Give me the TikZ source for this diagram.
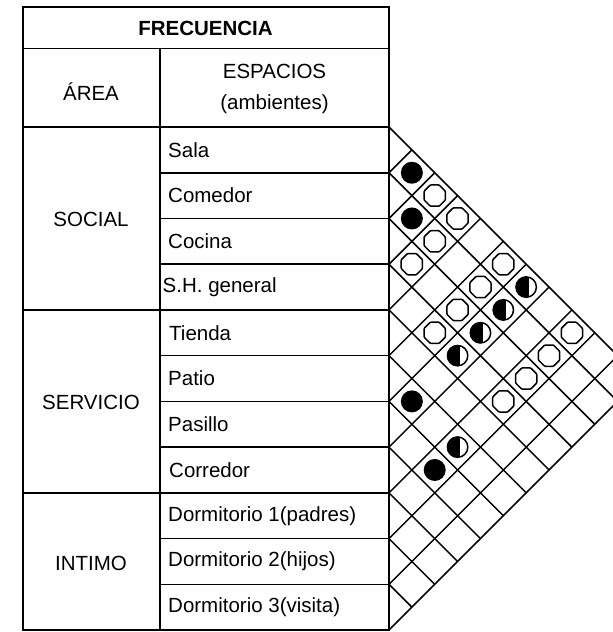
\documentclass[tikz,border=0pt]{standalone}
\usepackage{fontspec}
\setmainfont{Liberation Sans}
\usetikzlibrary{shapes.geometric}
\begin{document}
\begin{tikzpicture}[x=1pt,y=-1pt,
  rule/.style={line width=1.6pt,line cap=rect},
  gridline/.style={line width=1.5pt},
  txt/.style={inner sep=0pt,font=\fontsize{20.5}{24}\selectfont},
  spacetxt/.style={txt,anchor=west},
  opensym/.style={draw,line width=1.5pt,regular polygon,regular polygon sides=8,minimum size=23pt,inner sep=0pt,fill=white,rounded corners=0.8pt},
]
\useasboundingbox (0,0) rectangle (613,632);
\clip (0,0) rectangle (613,632);
\fill[white] (0,0) rectangle (613,632);
\def\h{45.73}
\def\hh{22.865}
% table frame
\draw[rule] (22.7,6.7) rectangle (389,630);
\draw[rule] (22.7,48.3) -- (389,48.3);
\draw[rule] (22.7,127) -- (389,127);
\draw[rule] (160,48.3) -- (160,630);
\draw[rule] (22.7,{127+4*\h}) -- (389,{127+4*\h});
\draw[rule] (22.7,{127+8*\h}) -- (389,{127+8*\h});
\foreach \k in {1,2,3,5,6,7,9,10}{
  \draw[rule] (160,{127+\k*\h}) -- (389,{127+\k*\h});
}
% matrix grid
\foreach \k in {0,...,11}{
  \draw[gridline] (389,{127+\k*\h}) -- ++({(11-\k)*\hh},{(11-\k)*\hh});
  \draw[gridline] (389,{127+\k*\h}) -- ++({\k*\hh},{-\k*\hh});
}
% header texts
\node[txt,font=\fontsize{20.5}{24}\selectfont\bfseries] (frec) at (205.5,28) {FRECUENCIA};
\node[txt] (area) at (91,92) {ÁREA};
\node[txt] (esp) at (274.5,71) {ESPACIOS};
\node[txt] (amb) at (274.5,104) {(ambientes)};
% area labels
\node[txt] (social) at (91,219.5) {SOCIAL};
\node[txt] (servicio) at (91,402.5) {SERVICIO};
\node[txt] (intimo) at (91,563) {INTIMO};
% space names
\node[spacetxt] (s1) at (168,{127+0.5*\h}) {Sala};
\node[spacetxt] (s2) at (168,{127+1.5*\h}) {Comedor};
\node[spacetxt] (s3) at (168,{127+2.5*\h}) {Cocina};
\node[spacetxt] (s4) at (162.5,{127+3.5*\h}) {S.H. general};
\node[spacetxt] (s5) at (169,{127+4.5*\h}) {Tienda};
\node[spacetxt] (s6) at (168,{127+5.5*\h}) {Patio};
\node[spacetxt] (s7) at (168,{127+6.5*\h}) {Pasillo};
\node[spacetxt] (s8) at (169,{127+7.5*\h}) {Corredor};
\node[spacetxt] (s9) at (168,{127+8.5*\h}) {Dormitorio 1(padres)};
\node[spacetxt] (s10) at (168,{127+9.5*\h}) {Dormitorio 2(hijos)};
\node[spacetxt] (s11) at (168,{127+10.5*\h}) {Dormitorio 3(visita)};
% symbols: filled
\foreach \i/\j in {0/1,1/2,5/6,6/8}{
  \fill ({389+(\j-\i)*\hh},{127+(\i+\j+1)*\hh}) circle (11);
}
% symbols: open
\foreach \i/\j in {0/2,0/3,1/3,2/3,0/5,1/5,2/5,3/5,0/8,1/8,2/8,3/8}{
  \node[opensym] (o\i\j) at ({389+(\j-\i)*\hh},{127+(\i+\j+1)*\hh}) {};
}
% symbols: half
\foreach \i/\j in {0/6,1/6,2/6,3/6,5/8}{
  \begin{scope}[shift={({389+(\j-\i)*\hh},{127+(\i+\j+1)*\hh})}]
    \fill[white] (0,0) circle (10.5);
    \begin{scope}
      \clip (0,0) circle (10.5);
      \fill (-12,-12) rectangle (2.5,12);
    \end{scope}
    \draw[line width=1.5pt] (0,0) circle (10.2);
  \end{scope}
}
\end{tikzpicture}
\end{document}
